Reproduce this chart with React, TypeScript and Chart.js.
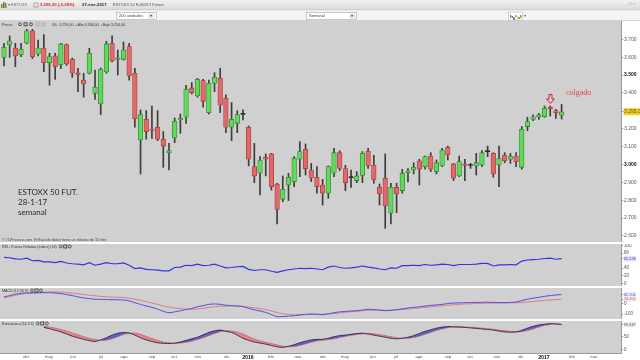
import React, { useEffect, useRef } from 'react';
import { Chart, registerables } from 'chart.js';

Chart.register(...registerables);

const FONT = '"Liberation Sans", Arial, sans-serif';

// Weekly candles, ESTOXX 50 future (index 0 = first visible week)
const opens = [
  3599, 3668, 3651, 3614, 3678, 3748, 3618, 3651, 3569, 3607,
  3558, 3670, 3588, 3513, 3472, 3510, 3398, 3338, 3517, 3678,
  3588, 3588, 3659, 3510, 3137, 3252, 3198, 3208, 3141, 3066,
  3148, 3249, 3264, 3428, 3383, 3469, 3290, 3454, 3482, 3370,
  3208, 3230, 3280, 3208, 2988, 2951, 3040, 3059, 2891, 2805,
  2885, 2904, 3029, 3085, 2969, 2928, 2885, 2839, 2951, 3066,
  2977, 2926, 2910, 2939, 3074, 2997, 2872, 2923, 2727, 2872,
  2854, 2954, 2969, 3021, 2988, 3047, 2960, 2992, 3096, 3003,
  2936, 3003, 2994, 2992, 2997, 3072, 3062, 2997, 3053, 3029,
  3047, 2984, 3212, 3252, 3264, 3267, 3320, 3301, 3275,
];
const highs = [
  3678, 3719, 3678, 3678, 3756, 3756, 3696, 3726, 3622, 3622,
  3678, 3674, 3595, 3538, 3510, 3650, 3528, 3540, 3689, 3719,
  3640, 3685, 3678, 3538, 3305, 3301, 3327, 3301, 3184, 3118,
  3260, 3282, 3443, 3458, 3482, 3476, 3472, 3513, 3538, 3389,
  3346, 3301, 3305, 3215, 3118, 3044, 3059, 3062, 2895, 2936,
  2951, 3044, 3128, 3115, 3006, 2988, 2917, 2992, 3090, 3077,
  2995, 2969, 2960, 3072, 3090, 3051, 2891, 3059, 2895, 2895,
  2973, 2977, 3010, 3029, 3047, 3066, 3025, 3090, 3103, 3006,
  3047, 3029, 3006, 3062, 3077, 3103, 3066, 3103, 3066, 3062,
  3066, 3212, 3264, 3277, 3286, 3327, 3327, 3308, 3336,
];
const lows = [
  3551, 3599, 3547, 3603, 3674, 3592, 3607, 3519, 3443, 3476,
  3536, 3554, 3487, 3407, 3376, 3506, 3364, 3279, 3510, 3573,
  3500, 3584, 3472, 3208, 2947, 3141, 3146, 3133, 2984, 2969,
  3122, 3174, 3230, 3394, 3376, 3320, 3282, 3407, 3290, 3178,
  3133, 3178, 3249, 2992, 2898, 2829, 2936, 2857, 2667, 2792,
  2798, 2876, 2932, 2941, 2904, 2839, 2773, 2811, 2932, 2965,
  2854, 2872, 2898, 2898, 2978, 2895, 2773, 2643, 2667, 2731,
  2839, 2902, 2947, 2885, 2973, 2960, 2947, 2988, 3025, 2910,
  2932, 2910, 2978, 2941, 2988, 3044, 2928, 2876, 3010, 3006,
  2988, 2973, 3189, 3245, 3252, 3264, 3271, 3258, 3254,
];
const closes = [
  3655, 3692, 3607, 3644, 3748, 3603, 3651, 3569, 3603, 3547,
  3674, 3562, 3510, 3502, 3450, 3622, 3431, 3532, 3674, 3577,
  3597, 3640, 3495, 3256, 3279, 3184, 3191, 3141, 3103, 3077,
  3241, 3258, 3420, 3402, 3476, 3353, 3454, 3487, 3331, 3208,
  3252, 3279, 3280, 3029, 2936, 3025, 3029, 2876, 2749, 2861,
  2928, 3034, 3072, 2977, 2923, 2876, 2839, 2988, 3066, 2978,
  2898, 2926, 2936, 3062, 2992, 2913, 2835, 2768, 2872, 2835,
  2951, 2965, 2984, 2973, 3044, 2973, 3010, 3081, 3053, 2923,
  3016, 2995, 2994, 3010, 3066, 3072, 2947, 3033, 3021, 3044,
  3016, 3197, 3240, 3267, 3277, 3314, 3312, 3290, 3295,
];

// RSI (14)
const rsi = [
  69, 68, 65, 64, 67, 60, 61, 57, 57, 55,
  58, 54, 52, 51, 49, 55, 48, 51, 55, 52,
  52, 54, 48, 39, 41, 37, 36, 35, 33, 33,
  42, 43, 48, 47, 51, 47, 48, 51, 46, 41,
  42, 44, 45, 37, 34, 36, 36, 32, 29, 33,
  36, 38, 40, 39, 40, 38, 36, 43, 46, 42,
  40, 41, 43, 46, 43, 41, 38, 36, 41, 40,
  47, 47, 48, 47, 50, 48, 49, 51, 50, 47,
  50, 50, 50, 51, 53, 53, 46, 49, 49, 50,
  49, 59, 62, 63, 64, 66, 67, 64, 65.528,
];

// MACD (12 26 9)
const macdLine = [
  60, 72, 85, 93, 97, 97, 98, 99, 99, 96,
  90, 82, 72, 60, 50, 44, 38, 36, 35, 34,
  33, 31, 22, 5, -10, -25, -38, -55, -75, -88,
  -80, -70, -58, -48, -33, -22, -10, -6, -10, -18,
  -22, -25, -30, -48, -60, -72, -85, -105, -125, -124,
  -120, -116, -108, -103, -100, -102, -106, -98, -88, -80,
  -76, -72, -69, -62, -56, -58, -64, -69, -66, -60,
  -52, -44, -38, -33, -26, -20, -15, -10, -2, 2,
  4, 6, 7, 8, 9, 10, 8, 7, 6, 8,
  12, 25, 38, 48, 56, 65, 72, 78, 82.204,
];
const macdSignal = [
  50, 62, 75, 85, 92, 97, 100, 103, 105, 106,
  104, 100, 95, 88, 82, 76, 70, 65, 61, 58,
  56, 54, 47, 38, 28, 15, 2, -10, -25, -35,
  -44, -50, -55, -56, -52, -46, -38, -32, -28, -26,
  -25, -26, -30, -36, -42, -50, -60, -72, -86, -97,
  -104, -108, -108, -106, -104, -103, -102, -100, -96, -90,
  -84, -79, -75, -70, -66, -64, -63, -64, -64, -62,
  -58, -54, -49, -44, -38, -33, -28, -23, -18, -14,
  -10, -6, -4, -2, 0, 1, 2, 3, 3, 4,
  5, 8, 12, 17, 22, 27, 31, 35, 38.4,
];

// Estocástico (14 3 3)
const stochK = [
  null, null, null, null, null, null, null, 85, 80, 74,
  68, 60, 52, 46, 40, 35, 32, 38, 46, 56,
  63, 66, 64, 56, 46, 38, 32, 27, 25, 24,
  26, 30, 36, 42, 48, 57, 66, 72, 75, 70,
  66, 56, 44, 36, 30, 26, 22, 17, 12, 10,
  14, 20, 27, 33, 38, 40, 40, 44, 50, 54,
  56, 59, 62, 63, 60, 56, 52, 48, 44, 42,
  44, 48, 54, 62, 70, 76, 82, 86, 88, 87,
  86, 85, 83, 81, 79, 77, 75, 71, 68, 67,
  68, 74, 82, 89, 94, 97, 99, 98, 95.647,
];
const stochD = [
  null, null, null, null, null, null, null, 89, 86, 82,
  77, 71, 64, 57, 50, 44, 39, 36, 37, 42,
  50, 58, 63, 64, 59, 51, 43, 36, 30, 27,
  25, 26, 29, 33, 39, 46, 54, 62, 69, 72,
  71, 67, 60, 50, 41, 34, 29, 24, 19, 14,
  12, 13, 17, 23, 29, 34, 37, 39, 42, 47,
  51, 55, 58, 61, 62, 61, 58, 54, 50, 46,
  44, 44, 47, 52, 59, 66, 73, 79, 84, 86,
  87, 86, 85, 84, 82, 80, 78, 75, 72, 70,
  68, 69, 73, 79, 86, 92, 96, 98, 97,
];

// Month axis (position in weeks from first candle)
const monthLabels = ['abr', 'may', 'jun', 'jul', 'ago', 'sep', 'oct', 'nov', 'dic', '2016', 'feb', 'mar',
  'abr', 'may', 'jun', 'jul', 'ago', 'sep', 'oct', 'nov', 'dic', '2017', 'feb', 'mar'];
const monthPos = [3.87, 7.91, 12.13, 17.05, 21.09, 26.01, 29.88, 34.09, 39.19, 42.88, 46.92, 51.67,
  56.06, 59.93, 64.85, 68.89, 72.93, 78.03, 81.9, 86.64, 90.86, 94.9, 99.82, 103.69];

const priceTicks = [3700, 3600, 3500, 3400, 3295, 3200, 3100, 3000, 2900, 2800, 2700, 2600];
const rsiTicks = [100, 80, 65.528, 40, 20, 0];
const macdTicks = [82.204, 38.4, 0, -100];
const stochTicks = [95.647, 50, 0];

const XMIN = -0.7;
const XMAX = 108.44;
const PANEL = '#d0d0d0';
const GREEN = '#63d95c';
const GREEN_EDGE = '#2f8a2f';
const RED = '#e06a6a';
const RED_EDGE = '#a84040';

const idx = closes.map((_, i) => i);

const fmtPrice = (v: number) => {
  const t = Math.floor(v / 1000);
  const r = Math.round(v - t * 1000);
  return `${t}.${String(r).padStart(3, '0')}`;
};
const fmtDec = (v: number) => v.toFixed(3).replace('.', ',');

const panelBg = {
  id: 'panelBg',
  beforeDraw(chart: any) {
    const { ctx, chartArea: a } = chart;
    ctx.save();
    ctx.fillStyle = PANEL;
    ctx.fillRect(a.left, a.top, a.right - a.left, a.bottom - a.top);
    ctx.restore();
  },
};

const titlePlugin = (title: string) => ({
  id: 'panelTitle',
  afterDraw(chart: any) {
    const { ctx, chartArea: a } = chart;
    ctx.save();
    ctx.font = `3.6px ${FONT}`;
    ctx.fillStyle = '#333';
    ctx.textBaseline = 'middle';
    ctx.fillText(title, a.left + 2, a.top + 3);
    const w = ctx.measureText(title).width;
    const x0 = a.left + 4 + w;
    ctx.strokeStyle = '#333';
    ctx.lineWidth = 0.8;
    ctx.beginPath(); ctx.arc(x0 + 2, a.top + 2.5, 1.4, 0, Math.PI * 2); ctx.stroke();
    ctx.strokeRect(x0 + 5, a.top + 1, 3, 3);
    ctx.beginPath(); ctx.arc(x0 + 11, a.top + 2.5, 1.5, 0, Math.PI * 2); ctx.stroke();
    ctx.restore();
  },
});

const rightAxis = (min: number, max: number, values: number[], opts: any) => ({
  position: 'right',
  min,
  max,
  afterFit: (s: any) => { s.width = 19; s.paddingTop = 0; s.paddingBottom = 0; },
  afterBuildTicks: (s: any) => { s.ticks = values.map((v) => ({ value: v })); },
  grid: { drawOnChartArea: false, drawTicks: true, tickLength: 2, color: '#888' },
  border: { display: true, color: '#9a9a9a' },
  ticks: {
    autoSkip: false,
    padding: 1,
    callback: opts.label,
    color: opts.color || '#555',
    font: opts.font || { size: 4.5, family: FONT },
    showLabelBackdrop: opts.backdrop || false,
    backdropColor: opts.backdropColor || 'rgba(0,0,0,0)',
    backdropPadding: 0.5,
  },
});

const hiddenX = { type: 'linear', min: XMIN, max: XMAX, display: false, offset: false };

const toolbar = {
  id: 'toolbar',
  beforeDraw(chart: any) {
    const ctx = chart.ctx;
    ctx.save();
    const g = ctx.createLinearGradient(0, 0, 0, 10);
    g.addColorStop(0, '#f2f2f2');
    g.addColorStop(1, '#dadada');
    ctx.fillStyle = g;
    ctx.fillRect(0, 0, 640, 10);
    ctx.fillStyle = '#f4f4f4';
    ctx.fillRect(0, 10, 640, 11);
    ctx.fillStyle = '#c4c4c4';
    ctx.fillRect(0, 9.5, 640, 0.7);
    ctx.fillRect(0, 20.3, 640, 0.7);
    // app icon
    ctx.fillStyle = '#3aa83a'; ctx.fillRect(1, 4, 1.5, 4);
    ctx.fillStyle = '#d33'; ctx.fillRect(3, 2, 1.5, 6);
    ctx.fillStyle = '#3aa83a'; ctx.fillRect(5, 3, 1.5, 5);
    ctx.textBaseline = 'middle';
    ctx.font = `4px ${FONT}`;
    ctx.fillStyle = '#666';
    ctx.fillText('▾ ESTOXX', 8, 5);
    ctx.strokeStyle = '#888'; ctx.lineWidth = 0.6;
    ctx.strokeRect(34, 3, 4, 4);
    ctx.font = `bold 4.3px ${FONT}`;
    ctx.fillStyle = '#e02020';
    ctx.fillText('3.295,00 (-0,39%)', 40, 5);
    ctx.fillStyle = '#222';
    ctx.fillText('27-ene-2017', 82, 5);
    ctx.font = `4px ${FONT}`;
    ctx.fillStyle = '#555';
    ctx.fillText('ESTOXX 50 Full0317 Future', 113, 5);
    ctx.fillStyle = '#999';
    ctx.fillText('_ □ ×', 626, 4);
    // dropdowns
    ctx.fillStyle = '#fff';
    ctx.strokeStyle = '#a8a8a8';
    ctx.fillRect(116.5, 12.5, 40, 7); ctx.strokeRect(116.5, 12.5, 40, 7);
    ctx.fillRect(306.5, 12.5, 50, 7); ctx.strokeRect(306.5, 12.5, 50, 7);
    ctx.fillStyle = '#e4e4e4';
    ctx.fillRect(148.5, 13.5, 6, 5); ctx.fillRect(349.5, 13.5, 6, 5);
    ctx.fillStyle = '#444';
    ctx.font = `4px ${FONT}`;
    ctx.fillText('200 unidades', 119, 16.2);
    ctx.fillText('Semanal', 309, 16.2);
    ctx.font = `3.5px ${FONT}`;
    ctx.fillText('▾', 150.3, 16.2);
    ctx.fillText('▾', 351.3, 16.2);
    // chart-type icon
    ctx.fillStyle = '#fff'; ctx.strokeStyle = '#bbb';
    ctx.fillRect(508.5, 12, 14, 8); ctx.strokeRect(508.5, 12, 14, 8);
    const dots = ['#3a3', '#d33', '#33c', '#3a3', '#dc3', '#d33', '#3a3'];
    dots.forEach((c, k) => { ctx.fillStyle = c; ctx.fillRect(510 + k * 1.7, 16 + (k % 3) - 1, 1.2, 3 - (k % 2)); });
    ctx.fillStyle = '#555';
    ctx.fillText('▾', 524, 16.2);
    ctx.restore();
  },
};

const mainNotes = {
  id: 'mainNotes',
  afterDraw(chart: any) {
    const { ctx, chartArea: a, scales } = chart;
    const x = scales.x;
    const y = scales.y;
    ctx.save();
    ctx.textBaseline = 'middle';
    // header line inside the panel
    ctx.font = `3.6px ${FONT}`;
    ctx.fillStyle = '#333';
    ctx.fillText('Precio', a.left + 2, a.top + 3.5);
    ctx.strokeStyle = '#333';
    ctx.lineWidth = 0.8;
    ctx.beginPath(); ctx.arc(20, a.top + 3.3, 1.4, 0, Math.PI * 2); ctx.stroke();
    ctx.strokeRect(24, a.top + 1.8, 3, 3);
    ctx.beginPath(); ctx.arc(31, a.top + 3.3, 1.5, 0, Math.PI * 2); ctx.stroke();
    ctx.strokeStyle = '#aaa';
    ctx.strokeRect(36, a.top + 1.8, 3, 3);
    ctx.strokeRect(42, a.top + 1.8, 3, 3);
    ctx.fillStyle = '#333';
    ctx.fillText('Últ.: 3.295,00  +Alto 3.336,00  +Bajo 3.254,00', 52, a.top + 3.5);
    // copyright
    ctx.font = `3.8px ${FONT}`;
    ctx.fillStyle = '#444';
    ctx.fillText('© IT-Finance.com. El flujo de datos tiene un retraso de 15 min', a.left + 2, a.bottom - 2.5);
    // note
    ctx.font = `8px Lato, ${FONT}`;
    ctx.fillStyle = '#2a2a2a';
    ctx.fillText('ESTOXX 50 FUT.', 18, 192);
    ctx.fillText('28-1-17', 18, 202);
    ctx.fillText('semanal', 18, 212);
    // hanging-man marker
    ctx.font = `8px "Liberation Serif", serif`;
    ctx.fillStyle = '#e04848';
    ctx.fillText('colgado', 566, 93);
    const k = 96;
    const cx = Math.round(x.getPixelForValue(k)) + 0.5;
    const tip = y.getPixelForValue(highs[k]) - 2.5;
    ctx.strokeStyle = '#e02020';
    ctx.lineWidth = 1;
    ctx.beginPath();
    ctx.moveTo(cx - 1.5, tip - 9);
    ctx.lineTo(cx + 1.5, tip - 9);
    ctx.lineTo(cx + 1.5, tip - 4.5);
    ctx.lineTo(cx + 4, tip - 4.5);
    ctx.lineTo(cx, tip);
    ctx.lineTo(cx - 4, tip - 4.5);
    ctx.lineTo(cx - 1.5, tip - 4.5);
    ctx.closePath();
    ctx.stroke();
    ctx.restore();
  },
};

export default function App() {
  const mainRef = useRef<HTMLCanvasElement>(null);
  const rsiRef = useRef<HTMLCanvasElement>(null);
  const macdRef = useRef<HTMLCanvasElement>(null);
  const stochRef = useRef<HTMLCanvasElement>(null);

  useEffect(() => {
    const charts: Chart[] = [];
    const common = {
      animation: false,
      responsive: false,
      maintainAspectRatio: false,
      events: [],
      plugins: { legend: { display: false }, tooltip: { enabled: false } },
    };

    const bodyColor = idx.map((i) => (closes[i] > opens[i] ? GREEN : closes[i] < opens[i] ? RED : '#222'));
    const bodyEdge = idx.map((i) => (closes[i] > opens[i] ? GREEN_EDGE : closes[i] < opens[i] ? RED_EDGE : '#222'));

    charts.push(new Chart(mainRef.current as HTMLCanvasElement, {
      type: 'bar',
      data: {
        datasets: [
          {
            data: idx.map((i) => ({ x: i, y: [lows[i], highs[i]] })),
            backgroundColor: '#3c3c3c',
            barThickness: 1,
            grouped: false,
            order: 2,
          } as any,
          {
            data: idx.map((i) => ({ x: i, y: [Math.min(opens[i], closes[i]), Math.max(opens[i], closes[i])] })),
            backgroundColor: bodyColor,
            borderColor: bodyEdge,
            borderWidth: 0.8,
            borderSkipped: false,
            barThickness: 4.6,
            minBarLength: 1,
            grouped: false,
            order: 1,
          } as any,
        ],
      },
      options: {
        ...common,
        layout: { padding: { top: 21, left: 0, right: 0, bottom: 0 } },
        scales: {
          x: hiddenX,
          y: rightAxis(2566.4, 3802.3, priceTicks, {
            label: (v: number) => (v === 3295 ? '3.295,0' : fmtPrice(v)),
            color: (c: any) => (c.tick && c.tick.value % 500 === 0 ? '#111' : '#555'),
            font: (c: any) => ({ size: 5, family: FONT, weight: c.tick && c.tick.value % 500 === 0 ? 'bold' : 'normal' }),
            backdrop: (c: any) => !!(c.tick && c.tick.value === 3295),
            backdropColor: '#f2d21a',
          }),
        },
      } as any,
      plugins: [toolbar, panelBg, mainNotes],
    }));

    charts.push(new Chart(rsiRef.current as HTMLCanvasElement, {
      type: 'line',
      data: {
        datasets: [{
          data: idx.map((i) => ({ x: i, y: rsi[i] })),
          borderColor: '#3434e0',
          borderWidth: 1.2,
          pointRadius: 0,
          tension: 0,
        }],
      },
      options: {
        ...common,
        layout: { padding: 0 },
        scales: {
          x: hiddenX,
          y: rightAxis(-7.2, 104.5, rsiTicks, {
            label: (v: number) => (v === rsiTicks[2] ? fmtDec(v) : String(v)),
            color: (c: any) => (c.tick && c.tick.value === rsiTicks[2] ? '#3434e0' : '#555'),
            font: (c: any) => ({ size: c.tick && c.tick.value === rsiTicks[2] ? 3.8 : 4.5, family: FONT }),
            backdrop: (c: any) => !!(c.tick && c.tick.value === rsiTicks[2]),
            backdropColor: '#e4e4f8',
          }),
        },
      } as any,
      plugins: [panelBg, titlePlugin('RSI - Fuerza Relativa (índice) (14)')],
    }));

    charts.push(new Chart(macdRef.current as HTMLCanvasElement, {
      type: 'line',
      data: {
        datasets: [
          { data: idx.map((i) => ({ x: i, y: macdLine[i] })), borderColor: '#4a4ae6', borderWidth: 1, pointRadius: 0, tension: 0.2 },
          { data: idx.map((i) => ({ x: i, y: macdSignal[i] })), borderColor: '#e07a7a', borderWidth: 1, pointRadius: 0, tension: 0.2 },
        ],
      },
      options: {
        ...common,
        layout: { padding: 0 },
        scales: {
          x: hiddenX,
          y: rightAxis(-146.7, 143, macdTicks, {
            label: (v: number) => (v === macdTicks[0] || v === macdTicks[1] ? fmtDec(v) : String(v)),
            color: (c: any) => {
              const v = c.tick && c.tick.value;
              return v === macdTicks[0] ? '#4a4ae6' : v === macdTicks[1] ? '#e05a5a' : '#555';
            },
            font: (c: any) => ({ size: c.tick && Math.abs(c.tick.value) % 100 !== 0 ? 3.8 : 4.5, family: FONT }),
            backdrop: (c: any) => !!(c.tick && Math.abs(c.tick.value) % 100 !== 0),
            backdropColor: '#f0f0f8',
          }),
        },
      } as any,
      plugins: [panelBg, titlePlugin('MACD (12 26 9)')],
    }));

    charts.push(new Chart(stochRef.current as HTMLCanvasElement, {
      type: 'line',
      data: {
        datasets: [
          {
            data: idx.map((i) => ({ x: i, y: stochK[i] })),
            borderColor: '#26264e',
            borderWidth: 0.9,
            pointRadius: 0,
            tension: 0.2,
            fill: { target: 1, above: 'rgba(70,70,190,0.8)', below: 'rgba(232,112,112,0.8)' },
          },
          {
            data: idx.map((i) => ({ x: i, y: stochD[i] })),
            borderColor: '#d86a6a',
            borderWidth: 0.9,
            pointRadius: 0,
            tension: 0.2,
          },
        ],
      },
      options: {
        ...common,
        layout: { padding: 0 },
        scales: {
          x: {
            type: 'linear',
            min: XMIN,
            max: XMAX,
            offset: false,
            afterFit: (s: any) => { s.height = 7; s.paddingLeft = 0; s.paddingRight = 0; },
            afterBuildTicks: (s: any) => { s.ticks = monthPos.map((v) => ({ value: v })); },
            grid: { display: false, drawTicks: false },
            border: { display: true, color: '#9a9a9a' },
            ticks: {
              autoSkip: false,
              maxRotation: 0,
              minRotation: 0,
              padding: 1.5,
              callback: (_v: number, i: number) => monthLabels[i],
              color: (c: any) => (c.index === 9 || c.index === 21 ? '#111' : '#555'),
              font: (c: any) => (c.index === 9 || c.index === 21
                ? { size: 5.2, family: FONT, weight: 'bold' }
                : { size: 4.2, family: FONT }),
            },
          },
          y: rightAxis(-11.3, 109, stochTicks, {
            label: (v: number) => (v === stochTicks[0] ? fmtDec(v) : String(v)),
            color: '#555',
            font: (c: any) => ({ size: c.tick && c.tick.value === stochTicks[0] ? 3.8 : 4.5, family: FONT }),
            backdrop: (c: any) => !!(c.tick && c.tick.value === stochTicks[0]),
            backdropColor: '#ececec',
          }),
        },
      } as any,
      plugins: [panelBg, titlePlugin('Estocástico (14 3 3)')],
    }));

    return () => { charts.forEach((c) => c.destroy()); };
  }, []);

  const pos = (top: number, h: number): React.CSSProperties => ({ position: 'absolute', left: 0, top, width: 640, height: h });

  return (
    <div style={{ position: 'fixed', left: 0, top: 0, width: 640, height: 360, background: '#ffffff', overflow: 'hidden' }}>
      <canvas ref={mainRef} width={640} height={242} style={pos(0, 242)} />
      <canvas ref={rsiRef} width={640} height={42} style={pos(244, 42)} />
      <canvas ref={macdRef} width={640} height={31} style={pos(288, 31)} />
      <canvas ref={stochRef} width={640} height={39} style={pos(321, 39)} />
    </div>
  );
}
